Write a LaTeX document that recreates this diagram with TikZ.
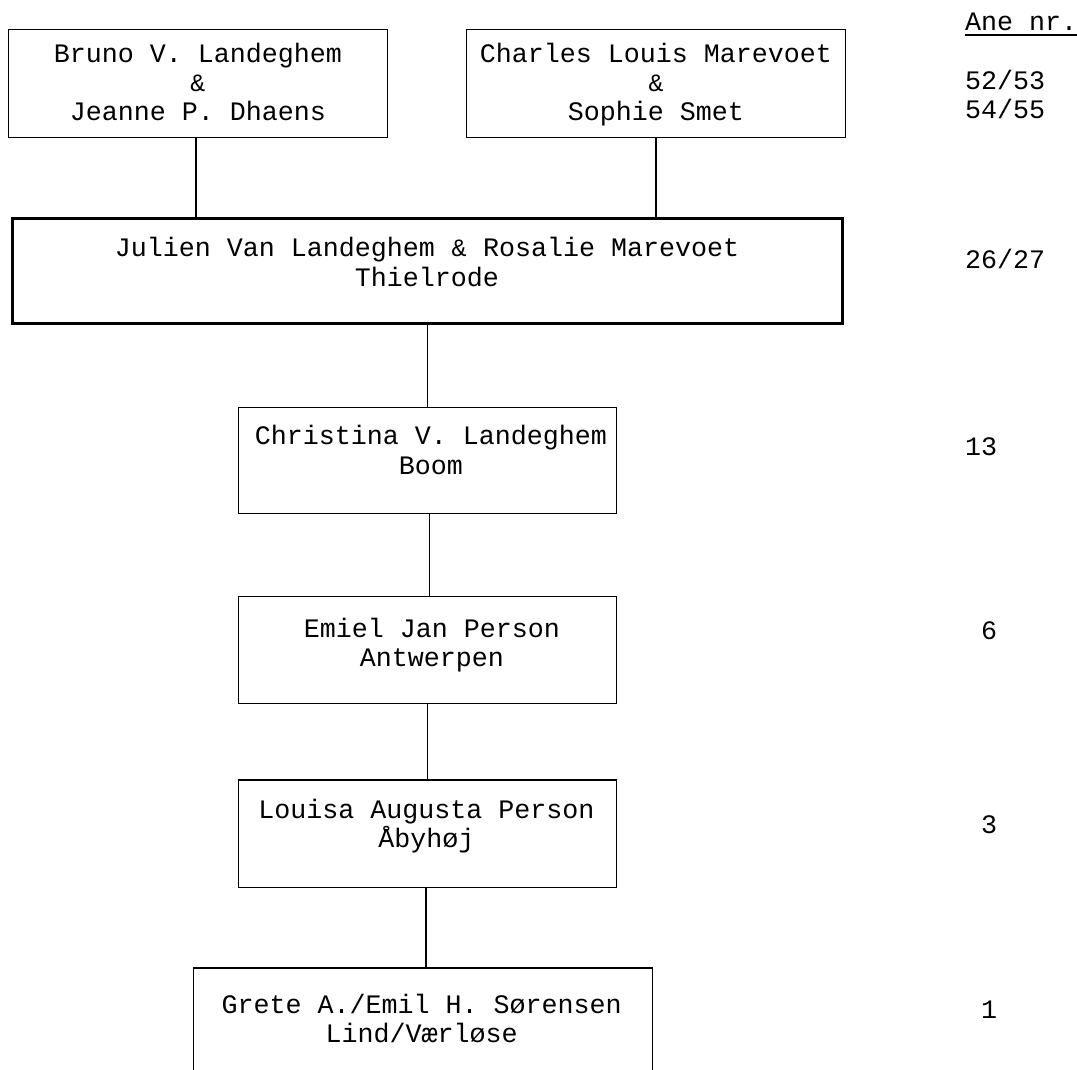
\documentclass[tikz,border=0pt]{standalone}
\usepackage{fontspec}
\setmainfont{Liberation Mono}
\newcommand{\smallamp}{\makebox[16pt]{\fontsize{25}{29.3}\selectfont\&}}
\tikzset{
  box/.style={draw, line width=1.4pt, rectangle, inner sep=0pt},
  thickbox/.style={draw, line width=3.4pt, rectangle, inner sep=0pt},
  txt/.style={align=center, inner sep=0pt, anchor=base, font=\fontsize{26.67}{29.3}\selectfont},
  num/.style={inner sep=0pt, anchor=base west, font=\fontsize{26.67}{29.3}\selectfont},
  link/.style={line width=1.4pt}
}
\begin{document}
\begin{tikzpicture}[x=1pt,y=-1pt]
\useasboundingbox (0,0) rectangle (1077,1070);
\clip (0,0) rectangle (1077,1070);
% boxes
\node[box, minimum width=378.6pt, minimum height=107.6pt] (b1) at (198,83.5) {};
\node[box, minimum width=378.6pt, minimum height=107.6pt] (b2) at (656,83.5) {};
\node[thickbox, minimum width=829.6pt, minimum height=104.6pt] (jul) at (427.5,271) {};
\node[box, minimum width=378pt, minimum height=106pt] (chr) at (427.3,460.3) {};
\node[box, minimum width=378pt, minimum height=107pt] (emi) at (427.3,650) {};
\node[box, minimum width=378pt, minimum height=107.3pt] (lou) at (427.3,833.6) {};
\node[box, minimum width=459.2pt, minimum height=120pt] (gre) at (423,1028) {};
% texts (base anchor = baseline of last line)
\node[txt] (t1) at (198,120.7) {Bruno V. Landeghem\\\smallamp\\Jeanne P. Dhaens};
\node[txt] (t2) at (656,120.7) {Charles Louis Marevoet\\\smallamp\\Sophie Smet};
\node[txt] (tj) at (427,286) {Julien Van Landeghem \smallamp{} Rosalie Marevoet\\Thielrode};
\node[txt] (tc) at (431,474) {Christina V. Landeghem\\Boom};
\node[txt] (te) at (432,666.7) {Emiel Jan Person\\Antwerpen};
\node[txt] (tl) at (426.5,847.3) {Louisa Augusta Person\\Åbyhøj};
\node[txt] (tg) at (421.7,1042.7) {Grete A./Emil H. Sørensen\\Lind/Værløse};
% connectors
\draw[link] ([xshift=-2pt]b1.south) -- ([xshift=-2pt]b1.south |- jul.north);
\draw[link] (b2.south) -- ([yshift=-3pt]b2.south |- jul.north);
\draw[link] (jul.south) -- (jul.south |- chr.north);
\draw[link] ([xshift=2pt]chr.south) -- ([xshift=2pt]chr.south |- emi.north);
\draw[link] (emi.south) -- (emi.south |- lou.north);
\draw[link] ([xshift=-1.5pt]lou.south) -- ([xshift=-1.5pt]lou.south |- gre.north);
% right column
\node[num] (ane) at (965,30.7) {Ane nr.};
\draw[link] ([yshift=-4.3pt]ane.base west) -- ([yshift=-4.3pt]ane.base east);
\node[num] (n1) at (965,89.3) {52/53};
\node[num] (n2) at (965,119) {54/55};
\node[num] (n3) at (965,268) {26/27};
\node[num] (n4) at (965,455) {13};
\node[num] (n5) at (981,639) {6};
\node[num] (n6) at (981,833) {3};
\node[num] (n7) at (981,1018) {1};
\end{tikzpicture}
\end{document}
